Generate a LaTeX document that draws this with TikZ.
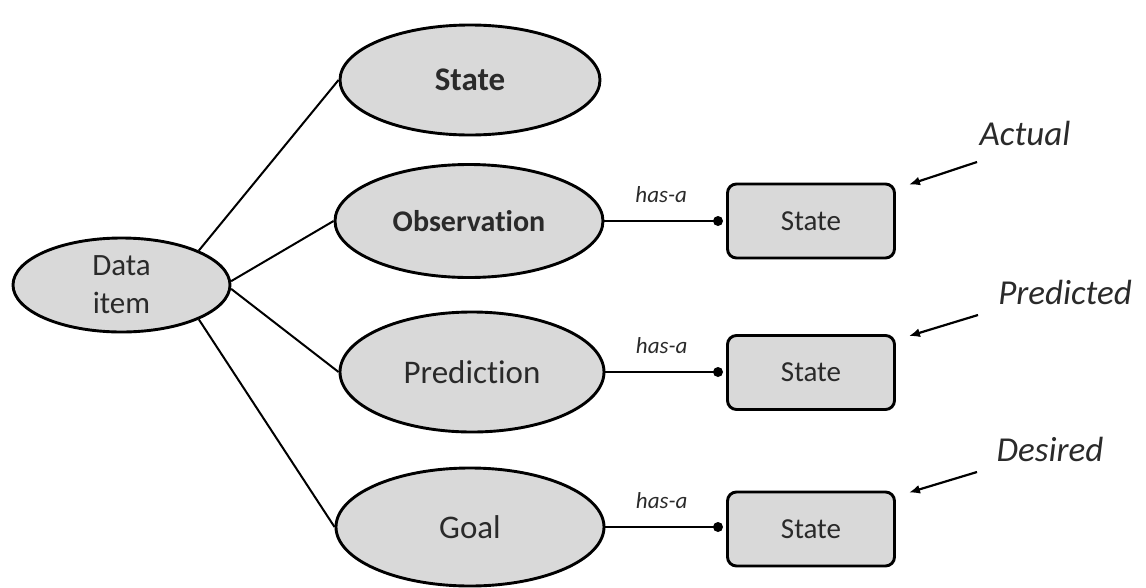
\documentclass[tikz,border=0pt]{standalone}
\usepackage{fontspec}
\setmainfont{Carlito}[Ligatures=NoCommon]
\usetikzlibrary{shapes.geometric,arrows.meta}
\definecolor{shade}{HTML}{D9D9D9}
\definecolor{ink}{HTML}{2A2A2A}
\begin{document}
\begin{tikzpicture}[x=1pt,y=-1pt,
  concept/.style={ellipse, draw=black, line width=2.9pt, fill=shade, inner sep=0pt, text=ink},
  statebox/.style={rectangle, rounded corners=9pt, draw=black, line width=2.9pt, fill=shade,
    minimum width=167pt, minimum height=74pt, inner sep=0pt,
    font=\fontsize{29}{32}\selectfont, text=ink},
  link/.style={line width=2pt},
  hasa/.style={font=\itshape\fontsize{23}{25}\selectfont, text=ink, inner sep=0pt},
  dot/.style={circle, fill=black, inner sep=0pt, minimum size=10pt},
  tag/.style={font=\itshape\fontsize{35}{38}\selectfont, text=ink},
  pointer/.style={line width=2.2pt, -{Latex[length=11pt,width=9pt]}}]
\useasboundingbox (0,0) rectangle (1146,587);

% the data item and its four kinds
\node[concept, minimum width=217pt, minimum height=94pt, align=center,
  font=\fontsize{31}{38}\selectfont] (data) at (121.5,285) {Data\\item};
\node[concept, minimum width=260pt, minimum height=110pt,
  font=\bfseries\fontsize{33}{36}\selectfont] (state) at (470,80) {State};
\node[concept, minimum width=268pt, minimum height=113pt,
  font=\bfseries\fontsize{30}{34}\selectfont] (obs) at (469,221) {Observation};
\node[concept, minimum width=264pt, minimum height=120pt,
  font=\fontsize{33}{36}\selectfont] (pred) at (472,372) {Prediction};
\node[concept, minimum width=268pt, minimum height=118pt,
  font=\fontsize{33}{36}\selectfont] (goal) at (470,527) {Goal};

\draw[link] (data.24) -- (state.west);
\draw[link] (data.2) -- (obs.west);
\draw[link] (data.-2) -- (pred.west);
\draw[link] (data.-24) -- (goal.west);

% has-a links to the state boxes
\node[dot] (d1) at (718,221) {};
\node[dot] (d2) at (718,372) {};
\node[dot] (d3) at (718,527) {};
\node[statebox] (s1) at (811,221) {State};
\node[statebox] (s2) at (811,372.5) {State};
\node[statebox] (s3) at (811,529) {State};

\draw[link] (obs.east) -- node[hasa, above=17pt] {has-a} (d1.center);
\draw[link] (pred.east) -- node[hasa, above=17pt] {has-a} (d2.center);
\draw[link] (goal.east) -- node[hasa, above=17pt] {has-a} (d3.center);

% qualifiers of each state
\node[tag] (actual) at (1025,133) {Actual};
\node[tag] (predicted) at (1065,292) {Predicted};
\node[tag] (desired) at (1050,449) {Desired};
\coordinate (p1) at (977,162);
\coordinate (p2) at (978,315);
\coordinate (p3) at (977,472);
\draw[pointer] (p1) -- ([xshift=13pt,yshift=-2pt]s1.north east);
\draw[pointer] (p2) -- ([xshift=13pt,yshift=-2pt]s2.north east);
\draw[pointer] (p3) -- ([xshift=13pt,yshift=-2pt]s3.north east);
\end{tikzpicture}
\end{document}
